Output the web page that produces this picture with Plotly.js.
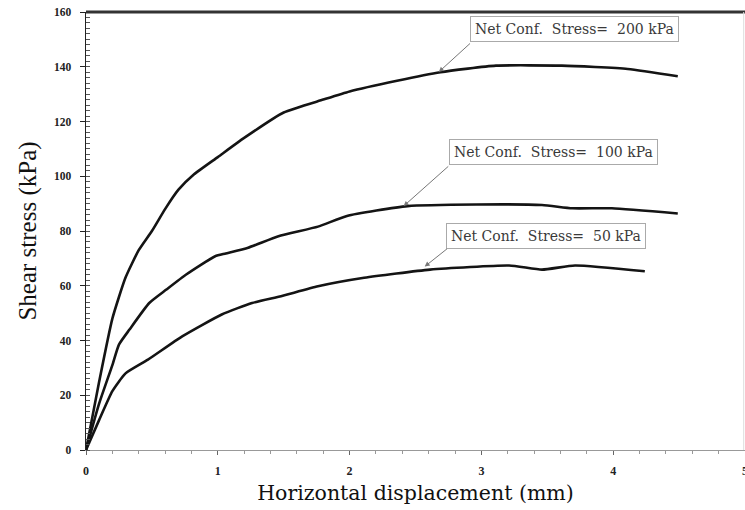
<!DOCTYPE html>
<html>
<head>
<meta charset="utf-8">
<script src="https://cdn.plot.ly/plotly-3.0.1.min.js"></script>
<style>
html, body { margin: 0; padding: 0; overflow: hidden; background: #fff; }
#chart { width: 745px; height: 510px; }
</style>
</head>
<body>
<div id="chart"></div>
<script>
// Series
const x200 = [0, 0.1, 0.2, 0.3, 0.4, 0.5, 0.6, 0.7, 0.82, 1.0, 1.2, 1.5, 1.8, 2.0, 2.36, 2.69, 3.11, 3.61, 4.11, 4.49];
const y200 = [0, 25, 48, 63, 73, 80, 88, 95, 100.7, 107, 114, 123.3, 128, 131, 134.9, 138, 140.4, 140.4, 139.2, 136.5];

const x100 = [0, 0.1, 0.2, 0.25, 0.33, 0.48, 0.61, 0.76, 0.98, 1.06, 1.23, 1.46, 1.76, 1.98, 2.44, 2.96, 3.46, 3.69, 3.99, 4.49];
const y100 = [0, 17, 31, 38.5, 44, 53.7, 58.6, 64.1, 70.8, 71.8, 73.9, 78.1, 81.6, 85.5, 89.1, 89.7, 89.5, 88.3, 88.3, 86.4];

const x50 = [0, 0.1, 0.2, 0.3, 0.47, 0.73, 1.03, 1.26, 1.48, 1.76, 2.11, 2.61, 3.21, 3.46, 3.71, 4.24];
const y50 = [0, 11, 21.5, 28, 33, 41.5, 49.5, 53.7, 56.2, 59.8, 62.9, 65.9, 67.4, 65.9, 67.4, 65.3];

const labels = ["Net Conf.  Stress=  200 kPa", "Net Conf.  Stress=  100 kPa", "Net Conf.  Stress=  50 kPa"];
const xTicks = [0, 1, 2, 3, 4, 5];
const yTicks = [0, 20, 40, 60, 80, 100, 120, 140, 160];

const lineStyle = { color: '#141414', width: 2.6, shape: 'spline', smoothing: 0.5 };
const traces = [
  { x: x200, y: y200, mode: 'lines', line: lineStyle, hoverinfo: 'skip', showlegend: false },
  { x: x100, y: y100, mode: 'lines', line: lineStyle, hoverinfo: 'skip', showlegend: false },
  { x: x50,  y: y50,  mode: 'lines', line: lineStyle, hoverinfo: 'skip', showlegend: false }
];

const serif = 'Liberation Serif, Times New Roman, serif';
const wide = 'DejaVu Serif, serif';
const boxStyle = {
  xref: 'x', yref: 'y', xanchor: 'left', yanchor: 'top', showarrow: false,
  bgcolor: '#ffffff', bordercolor: '#aaaaaa', borderwidth: 1, borderpad: 4,
  font: { family: wide, size: 14, color: '#3a3a3a' }
};
const arrowStyle = {
  xref: 'x', yref: 'y', axref: 'x', ayref: 'y', text: '', showarrow: true,
  arrowcolor: '#777777', arrowwidth: 1, arrowhead: 2, arrowsize: 1
};

const layout = {
  width: 745, height: 510,
  margin: { l: 86, r: 0, t: 12, b: 60 },
  paper_bgcolor: '#ffffff', plot_bgcolor: '#ffffff',
  xaxis: {
    range: [0, 5], tickvals: xTicks, ticktext: xTicks.map(String),
    showgrid: false, zeroline: false,
    showline: true, linecolor: '#999999', linewidth: 1,
    ticks: 'outside', ticklen: 4, tickcolor: '#666666',
    minor: { dtick: 0.2, ticks: 'outside', ticklen: 3, tickcolor: '#999999', showgrid: false },
    tickfont: { family: serif, size: 12, color: '#222222', weight: 'bold' },
    ticklabelstandoff: 6,
    ticklabeloverflow: 'allow',
    title: { text: 'Horizontal displacement (mm)', font: { family: wide, size: 20.5, color: '#111111' }, standoff: 8 }
  },
  yaxis: {
    range: [0, 160], tickvals: yTicks, ticktext: yTicks.map(String),
    showgrid: false, zeroline: false,
    showline: true, linecolor: '#222222', linewidth: 1.5,
    ticks: 'outside', ticklen: 5, tickcolor: '#222222',
    minor: { dtick: 2, ticks: 'inside', ticklen: 4, tickcolor: '#555555', showgrid: false },
    tickfont: { family: serif, size: 11.5, color: '#222222', weight: 'bold' },
    ticklabelstandoff: 6,
    title: { text: 'Shear stress (kPa)', font: { family: serif, size: 25, color: '#111111' }, standoff: 10 }
  },
  shapes: [
    { type: 'line', xref: 'paper', yref: 'paper', x0: 0, x1: 1, y0: 1, y1: 1,
      line: { color: '#333333', width: 3 } },
    { type: 'line', xref: 'paper', yref: 'paper', x0: 0.998, x1: 0.998, y0: 0, y1: 1,
      line: { color: '#dddddd', width: 1 } }
  ],
  annotations: [
    Object.assign({}, boxStyle, { x: 2.91, y: 158.5, text: labels[0] }),
    Object.assign({}, boxStyle, { x: 2.757, y: 113.5, text: labels[1] }),
    Object.assign({}, boxStyle, { x: 2.73, y: 83, text: labels[2] }),
    Object.assign({}, arrowStyle, { ax: 2.925, ay: 149.0, x: 2.677, y: 138.1 }),
    Object.assign({}, arrowStyle, { ax: 2.76, ay: 104.1, x: 2.41, y: 89.1 }),
    Object.assign({}, arrowStyle, { ax: 2.75, ay: 73.9, x: 2.57, y: 67 })
  ]
};

Plotly.newPlot('chart', traces, layout, { staticPlot: true, displayModeBar: false });
</script>
</body>
</html>
